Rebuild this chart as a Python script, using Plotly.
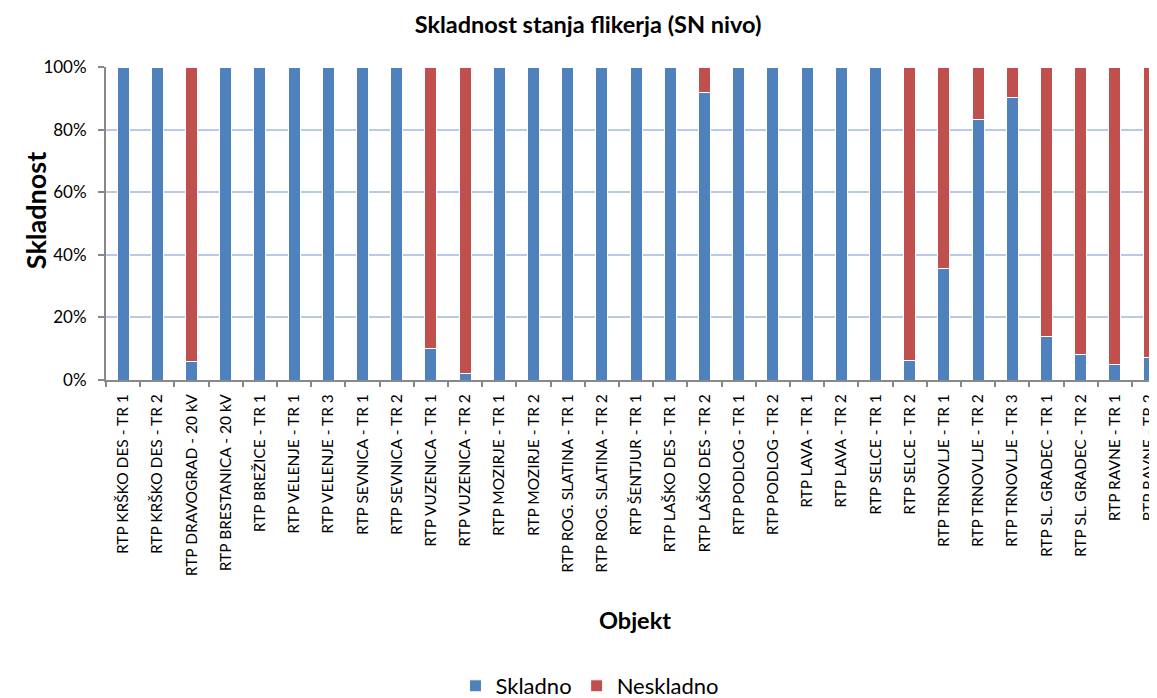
import plotly.graph_objects as go

categories = [
    "RTP KRŠKO DES - TR 1", "RTP KRŠKO DES - TR 2", "RTP DRAVOGRAD - 20 kV",
    "RTP BRESTANICA - 20 kV", "RTP BREŽICE - TR 1", "RTP VELENJE - TR 1",
    "RTP VELENJE - TR 3", "RTP SEVNICA - TR 1", "RTP SEVNICA - TR 2",
    "RTP VUZENICA - TR 1", "RTP VUZENICA - TR 2", "RTP MOZIRJE - TR 1",
    "RTP MOZIRJE - TR 2", "RTP ROG. SLATINA - TR 1", "RTP ROG. SLATINA - TR 2",
    "RTP ŠENTJUR - TR 1", "RTP LAŠKO DES - TR 1", "RTP LAŠKO DES - TR 2",
    "RTP PODLOG - TR 1", "RTP PODLOG - TR 2", "RTP LAVA - TR 1", "RTP LAVA - TR 2",
    "RTP SELCE - TR 1", "RTP SELCE - TR 2", "RTP TRNOVLJE - TR 1",
    "RTP TRNOVLJE - TR 2", "RTP TRNOVLJE - TR 3", "RTP SL. GRADEC - TR 1",
    "RTP SL. GRADEC - TR 2", "RTP RAVNE - TR 1", "RTP RAVNE - TR 2",
]
skladno = [100, 100, 6, 100, 100, 100, 100, 100, 100, 10, 2, 100, 100, 100, 100,
           100, 100, 91.7, 100, 100, 100, 100, 100, 6.3, 35.5, 83.1, 90.1, 13.9,
           8.1, 5.0, 7.3]
neskladno = [100 - v for v in skladno]
y_ticks = [0, 20, 40, 60, 80, 100]
y_tick_labels = ["0%", "20%", "40%", "60%", "80%", "100%"]

FONT = "Lato"
OFF = 8                      # default page body margin in the browser
SW, SH = 1157, 698           # screenshot size
W, H = SW - OFF, SH - OFF    # figure size
PL, PT, PB = 106, 67, 380    # plot area in screenshot pixels
L, T, B = PL - OFF, PT - OFF, SH - PB
PW = SW - PL
PH = PB - PT


def cx(px):
    return (px - OFF) / W


def cy(py):
    return 1 - (py - OFF) / H


fig = go.Figure()
fig.add_trace(go.Bar(name="Skladno", x=categories, y=skladno,
                     marker=dict(color="#4F81BD", line=dict(color="white", width=1))))
fig.add_trace(go.Bar(name="Neskladno", x=categories, y=neskladno,
                     marker=dict(color="#C0504D", line=dict(color="white", width=1))))

# the full plot area would end past the window edge; clip the category range to it
cat_px = 34.3
right_val = -0.5 + PW / cat_px

fig.update_layout(
    barmode="stack",
    bargap=0.65,
    width=W, height=H,
    margin=dict(l=L, r=0, t=T, b=B, pad=0),
    paper_bgcolor="white", plot_bgcolor="white",
    font=dict(family=FONT, size=15.5, color="black"),
    title=dict(text="<b>Skladnost stanja flikerja (SN nivo)</b>",
               font=dict(size=23.5, family=FONT), x=cx(588), xref="container",
               xanchor="center", y=cy(25), yref="container", yanchor="middle"),
    xaxis=dict(range=[-0.5, right_val], tickangle=-90, tickson="boundaries",
               ticks="outside", ticklen=5, tickcolor="#888888", tickwidth=1.5,
               showline=True, linecolor="#888888", linewidth=2,
               showgrid=False, tickfont=dict(size=15.5), ticklabelstandoff=6),
    yaxis=dict(range=[0, 100], tickvals=y_ticks, ticktext=y_tick_labels,
               ticks="outside", ticklen=6, tickcolor="#888888", tickwidth=1.5,
               showline=True, linecolor="#888888", linewidth=2,
               showgrid=True, gridcolor="#b9c9e8", gridwidth=1.5,
               zeroline=False, tickfont=dict(size=17), ticklabelstandoff=8),
    legend=dict(orientation="h", xref="container", yref="container",
                x=cx(590), xanchor="center", y=cy(686), yanchor="middle",
                font=dict(size=22), itemwidth=30, traceorder="normal"),
    annotations=[
        dict(text="<b>Objekt</b>", xref="paper", yref="paper",
             x=(637 - PL) / PW, y=-(620 - PB) / PH, showarrow=False,
             font=dict(size=23.5), xanchor="center", yanchor="middle"),
        dict(text="<b>Skladnost</b>", xref="paper", yref="paper",
             x=(35 - PL) / PW, y=(PB - 211) / PH, showarrow=False, textangle=-90,
             font=dict(size=27), xanchor="center", yanchor="middle"),
    ],
)

fig.write_html("out.html")
